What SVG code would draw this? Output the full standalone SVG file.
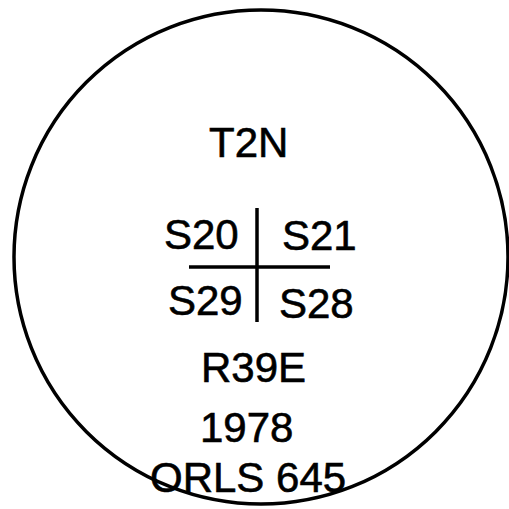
<svg xmlns="http://www.w3.org/2000/svg" width="509" height="509" viewBox="0 0 509 509">
<style>
text{font-family:"Liberation Sans",Arial,sans-serif;font-size:42px;fill:#000;stroke:#000;stroke-width:0.6}
.ln{stroke:#000;stroke-width:3.5;fill:none}
</style>
<rect width="509" height="509" fill="#fff"/>
<g id="boundary"><circle cx="261" cy="257" r="247" class="ln"/></g>
<g id="connectors">
<line x1="257" y1="208" x2="257" y2="322" class="ln"/>
<line x1="189" y1="267" x2="330" y2="267" class="ln"/>
</g>
<g id="township"><text x="209" y="157">T2N</text></g>
<g id="s20"><text x="164" y="249">S20</text></g>
<g id="s21"><text x="282" y="250">S21</text></g>
<g id="s29"><text x="168" y="315">S29</text></g>
<g id="s28"><text x="279" y="318">S28</text></g>
<g id="range"><text x="201" y="382">R39E</text></g>
<g id="year"><text x="200" y="442">1978</text></g>
<g id="orls"><text x="150" y="492">ORLS 645</text></g>
</svg>
